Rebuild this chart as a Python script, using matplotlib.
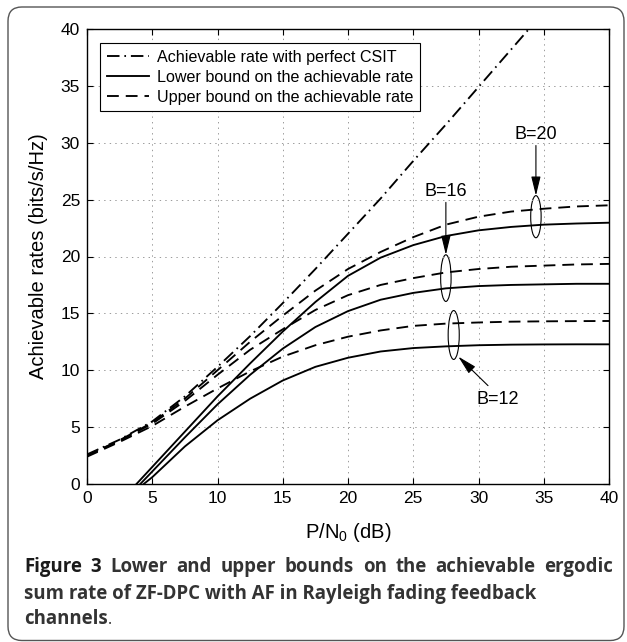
import numpy as np
import matplotlib
matplotlib.use('Agg')
import matplotlib.pyplot as plt
from matplotlib.patches import Ellipse, FancyBboxPatch

plt.rcParams['font.family'] = ['Liberation Sans', 'DejaVu Sans']
plt.rcParams['mathtext.fontset'] = 'custom'
plt.rcParams['mathtext.rm'] = 'Liberation Sans'
plt.rcParams['mathtext.it'] = 'Liberation Sans'
plt.rcParams['lines.scale_dashes'] = False

# P/N0 (dB)
snr = [0, 2.5, 5, 7.5, 10, 12.5, 15, 17.5, 20, 22.5, 25, 27.5, 30, 32.5, 35, 37.5, 40]
# perfect CSIT, only up to 35 dB (leaves the plot at 40)
snr_csit = [0, 2.5, 5, 7.5, 10, 12.5, 15, 17.5, 20, 22.5, 25, 27.5, 30, 32.5, 35]
rate_csit = [2.6, 3.9, 5.5, 7.7, 10.3, 13.0, 15.9, 18.9, 22.0, 25.1, 28.4, 31.6, 34.9, 38.2, 41.5]

upper_b20 = [2.5, 3.85, 5.4, 7.5, 10.0, 12.5, 14.8, 17.0, 18.9, 20.4, 21.7, 22.8, 23.5, 23.95, 24.2, 24.4, 24.5]
upper_b16 = [2.5, 3.8, 5.3, 7.3, 9.6, 11.8, 13.6, 15.3, 16.6, 17.5, 18.1, 18.6, 18.9, 19.1, 19.2, 19.3, 19.35]
upper_b12 = [2.4, 3.7, 5.1, 6.8, 8.4, 9.9, 11.2, 12.2, 12.95, 13.5, 13.9, 14.1, 14.2, 14.27, 14.3, 14.32, 14.33]

lower_b20 = [-1.6, -1.6, 1.5, 4.6, 7.7, 10.6, 13.4, 16.0, 18.3, 19.9, 21.0, 21.8, 22.3, 22.6, 22.8, 22.9, 22.97]
lower_b16 = [-1.9, -1.9, 1.1, 4.1, 7.0, 9.6, 11.9, 13.8, 15.2, 16.2, 16.8, 17.2, 17.4, 17.5, 17.55, 17.6, 17.6]
lower_b12 = [-1.7, -1.7, 0.6, 3.3, 5.6, 7.5, 9.1, 10.3, 11.1, 11.65, 11.95, 12.1, 12.2, 12.25, 12.27, 12.28, 12.28]

legend_labels = ['Achievable rate with perfect CSIT',
                 'Lower bound on the achievable rate',
                 'Upper bound on the achievable rate']

W, H = 627, 642
fig = plt.figure(figsize=(W / 100, H / 100), dpi=100)
ax = fig.add_axes([87 / W, 1 - 484 / H, 522 / W, 455 / H])

lw = 1.35
dashdot = (9, 3.5, 1.2, 3.5)
dashed = (8.5, 5)

ax.plot(snr_csit, rate_csit, color='k', lw=lw, dashes=dashdot, label=legend_labels[0])
ax.plot(snr, lower_b20, color='k', lw=lw, label=legend_labels[1])
ax.plot(snr, upper_b20, color='k', lw=lw, dashes=dashed, label=legend_labels[2])
ax.plot(snr, lower_b16, color='k', lw=lw)
ax.plot(snr, upper_b16, color='k', lw=lw, dashes=dashed)
ax.plot(snr, lower_b12, color='k', lw=lw)
ax.plot(snr, upper_b12, color='k', lw=lw, dashes=dashed)

ax.set_xlim(0, 40)
ax.set_ylim(0, 40)
ax.set_xticks(np.arange(0, 41, 5))
ax.set_yticks(np.arange(0, 41, 5))
ax.grid(True, linestyle=(0, (1, 3)), color='#9a9a9a', lw=0.7)
ax.tick_params(direction='in', top=True, right=True, length=4, width=0.8,
               labelsize=12.5, pad=5)
for s in ax.spines.values():
    s.set_linewidth(1.0)

ax.set_xlabel(r'P/N$_\mathrm{0}$ (dB)', fontsize=14.5, labelpad=11)
ax.set_ylabel('Achievable rates (bits/s/Hz)', fontsize=14.5, labelpad=9)

leg = ax.legend(loc='upper left', bbox_to_anchor=(0.025, 0.969), borderaxespad=0,
                fontsize=11.6, handlelength=2.6, handletextpad=0.5, labelspacing=0.3,
                borderpad=0.42, fancybox=False, framealpha=1, edgecolor='k')
leg.get_frame().set_linewidth(0.8)

# ellipses + labels with arrows
ell_kw = dict(fill=False, edgecolor='k', lw=0.8)
ax.add_patch(Ellipse((34.4, 23.5), 0.8, 3.7, **ell_kw))
ax.add_patch(Ellipse((27.5, 18.1), 0.8, 4.1, **ell_kw))
ax.add_patch(Ellipse((28.1, 13.1), 0.85, 4.3, **ell_kw))

arr = dict(arrowstyle='-|>,head_length=0.9,head_width=0.22', color='k', lw=0.8,
           shrinkA=0, shrinkB=0)
ax.annotate('B=20', xy=(34.4, 25.35), xytext=(34.4, 30.0), fontsize=13,
            ha='center', va='bottom', arrowprops=arr)
ax.annotate('B=16', xy=(27.5, 20.15), xytext=(27.5, 25.0), fontsize=13,
            ha='center', va='bottom', arrowprops=arr)
arr12 = dict(arr, relpos=(0.4, 1.0), shrinkA=3)
ax.annotate('B=12', xy=(28.45, 11.2), xytext=(31.5, 7.4), fontsize=13,
            ha='center', va='center', arrowprops=arr12)

# rounded frame around the whole figure
fig.patches.append(FancyBboxPatch((8 / W, 1.5 / H), 616 / W, 633.5 / H,
                                  boxstyle='round,pad=0,rounding_size=0.022',
                                  transform=fig.transFigure, fill=False,
                                  edgecolor='#555555', lw=1.0))

# caption, first line justified
cap_font = ['Open Sans', 'DejaVu Sans']
cap_size = 13.4
cap_kw = dict(fontsize=cap_size, fontweight='bold', family=cap_font, va='baseline')
renderer = fig.canvas.get_renderer()
words = ['Figure', '3', 'Lower', 'and', 'upper', 'bounds', 'on', 'the',
         'achievable', 'ergodic']
texts = []
for i, w in enumerate(words):
    c = '#1a1a1a' if i < 2 else '#333333'
    texts.append(fig.text(0, 1 - 572 / H, w, color=c, **cap_kw))
widths = [t.get_window_extent(renderer).width for t in texts]
gap = (613 - 24 - sum(widths)) / (len(words) - 1)
x = 24
for t, wd in zip(texts, widths):
    t.set_x(x / W)
    x += wd + gap
fig.text(24 / W, 1 - 599 / H, 'sum rate of ZF-DPC with AF in Rayleigh fading feedback',
         color='#333333', **cap_kw)
t_ch = fig.text(24 / W, 1 - 624 / H, 'channels', color='#333333', **cap_kw)
xe = t_ch.get_window_extent(renderer).x1
fig.text(xe / W, 1 - 624 / H, '.', color='#333333', fontsize=cap_size - 2,
         family=cap_font, va='baseline')

fig.savefig('out.png', dpi=100)
